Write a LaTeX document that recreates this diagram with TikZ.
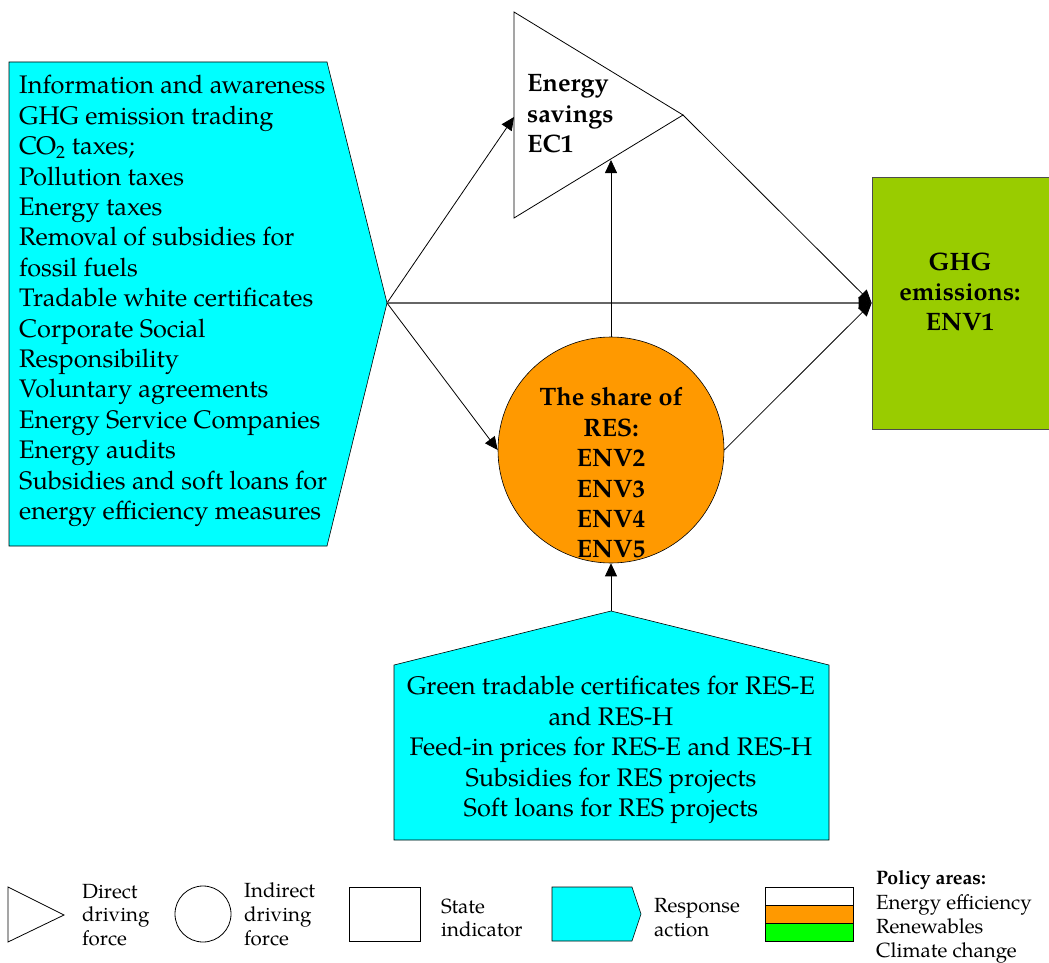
\documentclass[tikz,border=0pt]{standalone}
\usepackage{fontspec}
\setmainfont{TeX Gyre Pagella}
\usetikzlibrary{arrows.meta}
\definecolor{respcyan}{HTML}{00FFFF}
\definecolor{resorange}{HTML}{FF9900}
\definecolor{ghggreen}{HTML}{99CC00}
\definecolor{leggreen}{HTML}{00FF00}
\begin{document}
\begin{tikzpicture}[x=1pt,y=-1pt,
  thinline/.style={draw=black, line width=0.8pt},
  arr/.style={thinline, -{Triangle[length=13pt,width=12pt]}},
  maintext/.style={font=\fontsize{25.4}{30.4}\selectfont, inner sep=0pt},
  boldtext/.style={font=\fontsize{25.2}{30.4}\selectfont\bfseries, inner sep=0pt},
  legtext/.style={font=\fontsize{20.5}{23.8}\selectfont, inner sep=0pt, align=left, anchor=west},
  respshape/.style={fill=respcyan, draw=black, line width=0.6pt}]
\path[use as bounding box] (0,0) rectangle (1049,963);

% ---- response action (left)
\draw[respshape] (9,62) -- (327,62) -- (387,303) -- (327,546) -- (9,546) -- cycle;
\coordinate (lefttip) at (387,303);
\node[maintext, align=left, anchor=west] (lefttext) at (19,301) {Information and awareness\\GHG emission trading\\CO\textsubscript{2} taxes;\\Pollution taxes\\Energy taxes\\Removal of subsidies for\\fossil fuels\\Tradable white certificates\\Corporate Social\\Responsibility\\Voluntary agreements\\Energy Service Companies\\Energy audits\\Subsidies and soft loans for\\energy efficiency measures};

% ---- direct driving force (triangle)
\draw[fill=white, thinline] (514,12) -- (683,115) -- (514,218) -- cycle;
\coordinate (trileft) at (514,117);
\coordinate (tribottom) at (611,160);
\coordinate (tritip) at (683,115);
\node[boldtext, align=left, anchor=west] (tritext) at (527,114) {Energy\\savings\\EC1};

% ---- state indicator (GHG)
\node[draw=black!70, line width=0.8pt, fill=ghggreen, minimum width=177pt, minimum height=252pt, inner sep=0pt] (ghg) at (960.5,303) {};
\node[boldtext, align=center] (ghgtext) at (960,292) {GHG\\emissions:\\ENV1};

% ---- indirect driving force (circle)
\node[circle, draw=black, line width=0.6pt, fill=resorange, minimum size=226pt, inner sep=0pt] (res) at (611,450) {};
\node[boldtext, align=center] (restext) at (611,473) {The share of\\RES:\\ENV2\\ENV3\\ENV4\\ENV5};

% ---- response action (bottom)
\draw[respshape] (394,665) -- (611,611) -- (829,665) -- (829,840) -- (394,840) -- cycle;
\coordinate (bottip) at (611,611);
\node[maintext, align=center] (bottext) at (611,750) {Green tradable certificates for RES-E\\and RES-H\\Feed-in prices for RES-E and RES-H\\Subsidies for RES projects\\Soft loans for RES projects};

% ---- connectors
\draw[arr] (lefttip) -- (trileft);
\draw[draw=black!60, line width=1.4pt, -{Triangle[length=13pt,width=12pt,color=black]}] (lefttip) -- (ghg.west);
\draw[arr] (lefttip) -- (res.west);
\draw[arr] (tritip) -- (ghg.west);
\draw[arr] (res.east) -- (ghg.west);
\draw[arr] (res.north) -- (tribottom);
\draw[arr] (bottip) -- (res.south);

% ---- legend
\draw[thinline, fill=white] (8,887) -- (64,915) -- (8,942) -- cycle;
\node[legtext] (l1) at (82,915) {Direct\\driving\\force};
\node[circle, thinline, minimum size=56pt, inner sep=0pt] (lc) at (203,914) {};
\node[legtext] (l2) at (244,914) {Indirect\\driving\\force};
\node[draw=black, line width=0.8pt, minimum width=71pt, minimum height=54pt, inner sep=0pt] (ls) at (384.5,914) {};
\node[legtext] (l3) at (441,918) {State\\indicator};
\draw[respshape] (552,887) -- (632,887) -- (641,914) -- (632,941) -- (552,941) -- cycle;
\node[legtext] (l4) at (654,918) {Response\\action};
\draw[thinline, fill=white] (765,887) rectangle (853,905);
\draw[thinline, fill=resorange] (765,905) rectangle (853,923);
\draw[thinline, fill=leggreen] (765,923) rectangle (853,941);
\node[font=\fontsize{19.5}{22}\selectfont\bfseries, inner sep=0pt, anchor=west] (pa) at (876,880) {Policy areas:};
\node[legtext] (l5) at (876,929) {Energy efficiency\\Renewables\\Climate change};
\end{tikzpicture}
\end{document}
